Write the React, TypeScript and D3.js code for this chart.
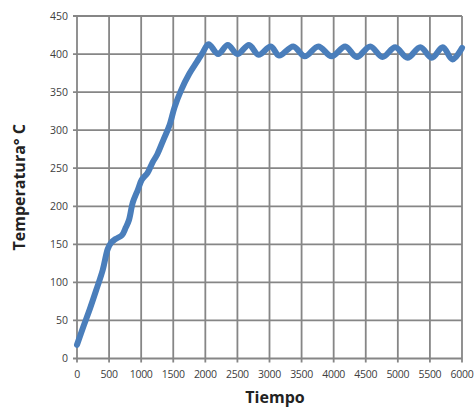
import React from 'react';
import * as d3 from 'd3';

// tiempo (s) y temperatura (°C)
const tiempo = [
  0, 100, 200, 300, 400, 480, 530, 600, 700, 760, 810, 870, 950, 1010, 1100, 1180,
  1250, 1350, 1440, 1520, 1620, 1750, 1870, 1960, 2050, 2200, 2350, 2500, 2680, 2830,
  3020, 3150, 3370, 3550, 3760, 3970, 4180, 4360, 4570, 4760, 4960, 5150, 5350, 5530,
  5700, 5850, 6000,
];
const temperatura = [
  18, 42, 65, 90, 116, 144, 152, 157, 162, 172, 182, 205, 222, 235, 244, 258,
  268, 288, 306, 330, 352, 374, 390, 402, 413, 400, 412, 400, 412, 399,
  410, 398, 410, 397, 410, 397, 410, 396, 410, 396, 409, 395, 409, 395,
  409, 393, 408,
];
const xTicks = [0, 500, 1000, 1500, 2000, 2500, 3000, 3500, 4000, 4500, 5000, 5500, 6000];
const yTicks = [0, 50, 100, 150, 200, 250, 300, 350, 400, 450];

const W = 474;
const H = 407;
const margin = { top: 16, right: 12, bottom: 48.5, left: 77 };

export default function App() {
  const x = d3.scaleLinear().domain([0, 6000]).range([margin.left, W - margin.right]);
  const y = d3.scaleLinear().domain([0, 450]).range([H - margin.bottom, margin.top]);

  const pts: [number, number][] = tiempo.map((t, i) => [t, temperatura[i]]);
  const line = d3.line<[number, number]>()
    .x(d => x(d[0]))
    .y(d => y(d[1]))
    .curve(d3.curveCatmullRom.alpha(0.5));

  const grid = '#868686';
  const font = 'Open Sans, Liberation Sans, sans-serif';

  return (
    <svg width={W} height={H} style={{ position: 'absolute', left: 0, top: 0 }}>
      <rect width={W} height={H} fill="#fff" />
      {xTicks.map(t => (
        <line key={'gx' + t} x1={x(t)} x2={x(t)} y1={y(450)} y2={y(0) + 4}
          stroke={grid} strokeWidth={1.8} />
      ))}
      {yTicks.map(t => (
        <line key={'gy' + t} x1={x(0) - 4} x2={x(6000)} y1={y(t)} y2={y(t)}
          stroke={grid} strokeWidth={1.8} />
      ))}
      <path d={line(pts) || ''} fill="none" stroke="#4a7ebb" strokeWidth={6}
        strokeLinejoin="round" strokeLinecap="round" />
      {yTicks.map(t => (
        <text key={'ty' + t} x={x(0) - 9} y={y(t)} dy="0.35em" textAnchor="end"
          fontFamily={font} fontSize={10.5} fill="#404040">{t}</text>
      ))}
      {xTicks.map(t => (
        <text key={'tx' + t} x={x(t)} y={y(0) + 16} dy="0.35em" textAnchor="middle"
          fontFamily={font} fontSize={10.5} fill="#404040" letterSpacing={-0.3}>{t}</text>
      ))}
      <text x={275} y={397} dy="0.35em" textAnchor="middle" fontFamily={font}
        fontSize={16} fontWeight="bold" fill="#222">Tiempo</text>
      <text transform={`translate(19,${(y(0) + y(450)) / 2}) rotate(-90)`} dy="0.35em"
        textAnchor="middle" fontFamily={font} fontSize={16} fontWeight="bold"
        fill="#222">Temperatura° C</text>
    </svg>
  );
}
